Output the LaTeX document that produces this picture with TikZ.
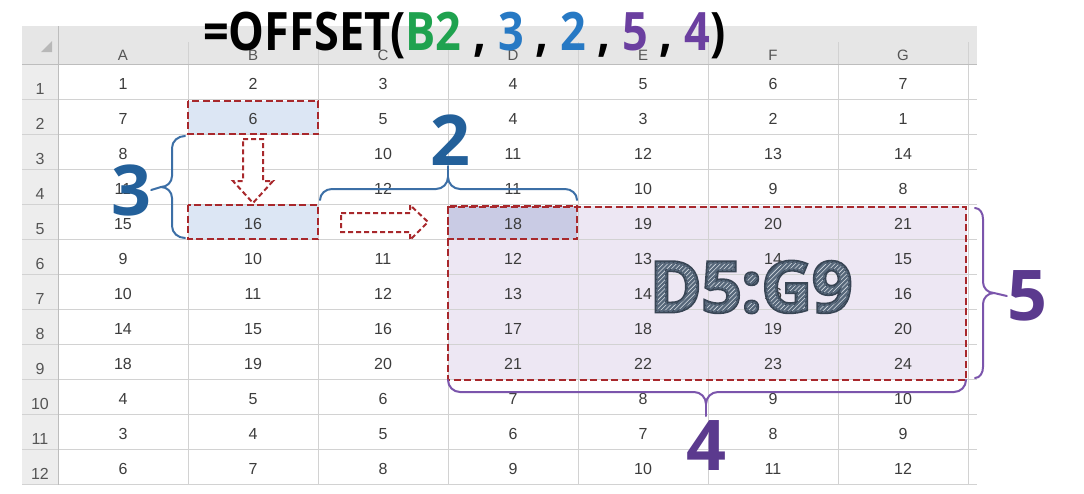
\documentclass[tikz,border=0pt]{standalone}
\usepackage{fontspec}
\setmainfont{Liberation Sans}
\newfontfamily\boldsans{Open Sans}
\definecolor{gridline}{HTML}{D2D2D2}
\definecolor{headline}{HTML}{BDBDBD}
\definecolor{headbg}{HTML}{E6E6E6}
\definecolor{rowheadbg}{HTML}{EDEDED}
\definecolor{celltext}{HTML}{3C3C3C}
\definecolor{headtext}{HTML}{555555}
\definecolor{dashred}{HTML}{A8282C}
\definecolor{srcfill}{HTML}{DCE6F4}
\definecolor{anchorfill}{HTML}{C9CBE4}
\definecolor{rangefill}{HTML}{EDE7F3}
\definecolor{bluelabel}{HTML}{23609A}
\definecolor{bluebrace}{HTML}{3C6FA6}
\definecolor{purplelabel}{HTML}{5B3A8E}
\definecolor{purplebrace}{HTML}{7B55AC}
\definecolor{fgreen}{HTML}{1FA24F}
\definecolor{fblue}{HTML}{2779C4}
\definecolor{fpurple}{HTML}{6B3FA0}
\definecolor{hatchlight}{HTML}{D3D9E0}
\definecolor{hatchdark}{HTML}{56677A}
% raw PDF operators: glyphs filled + stroked and kept as a clip region
\newcommand{\outlineclipon}{\special{pdf:literal direct q 0.22 0.27 0.33 RG 3.2 w 6 Tr}}
\newcommand{\outlineclipoff}{\special{pdf:literal direct 0 Tr}}
\newcommand{\outlinerestore}{\special{pdf:literal direct Q}}
% diagonal stripes laid over the clipped glyphs (drawn leftwards from the current point)
\newcommand{\glyphhatch}{\rlap{\tikz[overlay,x=1pt,y=1pt]{%
  \foreach \t in {0,4.4,...,300}
    \draw[hatchdark,line width=2.2pt] (-280+\t,-10) -- (-205+\t,65);}}}
\begin{document}
\begin{tikzpicture}[x=1pt,y=-1pt,
  cell/.style={text=celltext,font=\fontsize{16pt}{18pt}\selectfont,inner sep=0pt},
  colhead/.style={text=headtext,font=\fontsize{15pt}{17pt}\selectfont,inner sep=0pt},
  rowno/.style={text=headtext,font=\fontsize{16pt}{18pt}\selectfont,inner sep=0pt},
  gridrule/.style={draw=gridline,line width=0.8pt},
  redbox/.style={draw=dashred,line width=2.4pt,dash pattern=on 7pt off 3.5pt},
  redarrow/.style={draw=dashred,fill=white,line width=2pt,dash pattern=on 5pt off 3pt,line join=miter},
  bracepath/.style={line width=2pt,line cap=round,line join=round},
  biglabel/.style={font=\boldsans\bfseries\fontsize{70pt}{70pt}\selectfont,inner sep=0pt},
]
\useasboundingbox (0,0) rectangle (1084,493);
\fill[white] (0,0) rectangle (1084,493);

% sheet headers
\fill[headbg] (22,26) rectangle (977,64);
\fill[rowheadbg] (22,64) rectangle (58,485);
\fill[black!28] (41,52) -- (52,52) -- (52,41) -- cycle;

% highlighted areas
\fill[rangefill] (448,206) rectangle (967,380);
\fill[srcfill] (188,101) rectangle (318,134);
\fill[srcfill] (188,205) rectangle (318,239);
\fill[anchorfill] (448,206) rectangle (577,239);

% grid
\foreach \k in {1,...,12} \draw[gridrule] (22,64+35*\k) -- (977,64+35*\k);
\foreach \k in {1,...,6} \draw[gridrule] (58+130*\k,42) -- (58+130*\k,485);
\draw[gridrule] (968,42) -- (968,485);
\draw[draw=headline,line width=1pt] (58,26) -- (58,485);
\draw[draw=headline,line width=1pt] (22,64) -- (977,64);

% column letters and row numbers
\foreach \L [count=\i from 0] in {A,B,C,D,E,F,G}
  \node[colhead] (col-\L) at (123+130*\i,55) {\L};
\foreach \r in {1,...,12}
  \node[rowno,anchor=base] (row-\r) at (40,59+35*\r) {\r};

% cell values
\foreach \r/\vals in {
  1/{1,2,3,4,5,6,7},
  2/{7,6,5,4,3,2,1},
  3/{8,{},10,11,12,13,14},
  4/{11,{},12,11,10,9,8},
  5/{15,16,{},18,19,20,21},
  6/{9,10,11,12,13,14,15},
  7/{10,11,12,13,14,16,16},
  8/{14,15,16,17,18,19,20},
  9/{18,19,20,21,22,23,24},
  10/{4,5,6,7,8,9,10},
  11/{3,4,5,6,7,8,9},
  12/{6,7,8,9,10,11,12}}
{
  \foreach \v [count=\c from 0] in \vals
    \node[cell] (v-\r-\c) at (123+130*\c,49+35*\r) {\v};
}

% dashed outlines
\draw[redbox] (448,207) rectangle (966,380);
\draw[redbox] (188,101) rectangle (318,134);
\draw[redbox] (188,205) rectangle (318,239);
\draw[redbox] (448,206) rectangle (577,239);

% dashed move arrows
\draw[redarrow] (243,139) -- (263,139) -- (263,181) -- (273,181) -- (253,203)
  -- (233,181) -- (243,181) -- cycle;
\draw[redarrow] (341,213) -- (410,213) -- (410,205) -- (428,222) -- (410,240)
  -- (410,232) -- (341,232) -- cycle;

% formula
\node[anchor=base west,inner sep=0pt] (formula) at (203,50)
  {\scalebox{0.85}[1]{\boldsans\bfseries\fontsize{53pt}{53pt}\selectfont
   =OFFSET(\textcolor{fgreen}{B2} , \textcolor{fblue}{3} , \textcolor{fblue}{2} ,
   \textcolor{fpurple}{5} , \textcolor{fpurple}{4})}};

% offset labels
\node[biglabel,text=bluelabel] (rows-lbl) at (131,190) {3};
\node[biglabel,text=bluelabel] (cols-lbl) at (450,140) {2};
\node[biglabel,text=purplelabel] (height-lbl) at (1027,296) {5};
\node[biglabel,text=purplelabel] (width-lbl) at (706,446) {4};

% resulting range name: outlined letters with a striped fill
\node[biglabel,text=hatchlight] (range-lbl) at (751,287)
  {\outlineclipon D5:G9\outlineclipoff\glyphhatch\outlinerestore};

% braces
\coordinate (b3) at (161,187);
\draw[bracepath,bluebrace] (185,136) to[out=180,in=90] (172,148) -- (172,176)
  to[out=-90,in=0] (b3) to[out=0,in=90] (172,198) -- (172,226) to[out=-90,in=180] (185,238);
\draw[bracepath,bluebrace] (b3) -- (rows-lbl.east);

\coordinate (b2) at (448,177);
\draw[bracepath,bluebrace] (320,200) to[out=90,in=180] (332,189) -- (436,189)
  to[out=0,in=-90] (b2) to[out=-90,in=180] (460,189) -- (565,189) to[out=0,in=90] (577,200);
\draw[bracepath,bluebrace] (b2) -- (448,166);

\coordinate (b5) at (994,293);
\draw[bracepath,purplebrace] (975,208) to[out=0,in=90] (983,219) -- (983,282)
  to[out=-90,in=180] (b5) to[out=180,in=90] (983,304) -- (983,367) to[out=-90,in=0] (975,378);
\draw[bracepath,purplebrace] (b5) -- (height-lbl.west);

\coordinate (b4) at (706,404);
\draw[bracepath,purplebrace] (448,380) to[out=-90,in=180] (460,392) -- (694,392)
  to[out=0,in=90] (b4) to[out=90,in=180] (718,392) -- (954,392) to[out=0,in=-90] (966,380);
\draw[bracepath,purplebrace] (b4) -- (706,416);
\end{tikzpicture}
\end{document}
